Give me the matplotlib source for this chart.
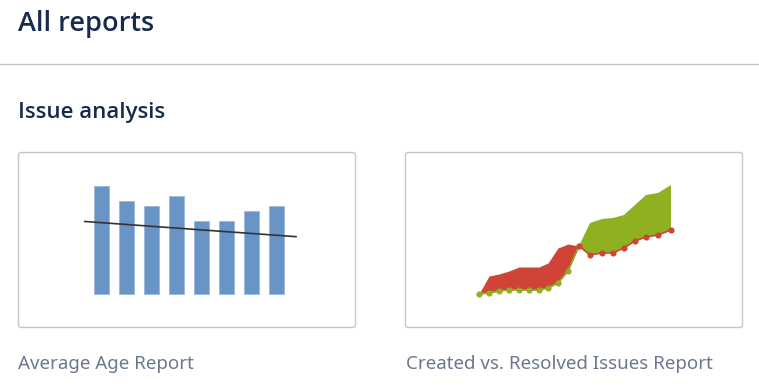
import matplotlib
matplotlib.use("Agg")
import matplotlib.pyplot as plt
from matplotlib.patches import FancyBboxPatch
import numpy as np

W, H = 759, 391

# ---- data ----
title = "All reports"
section = "Issue analysis"
captions = ["Average Age Report", "Created vs. Resolved Issues Report"]

avg_age = [22, 19, 18, 20, 15, 15, 17, 18]
trend_x = [-0.65, 7.8]
trend_y = [14.8, 11.7]

days = [0, 1, 2, 3, 4, 5, 6, 6.9, 7.9, 8.9, 10, 11.1, 12.3, 13.4, 14.5, 15.6, 16.7, 17.9, 19.2]
created = [0, 18, 20, 23, 27, 27, 27, 31, 46, 50, 48, 39, 41, 41, 46, 53, 57, 59, 64]
resolved = [0, 1, 3, 4, 4, 4, 4, 6, 11, 23, 48, 71, 75, 76, 79, 89, 99, 101, 109]

NAVY = "#172B4D"
GREY = "#6B778C"
BORDER = "#C1C7D0"
BLUE = "#6894C6"
RED = "#D04437"
GREEN = "#8EB021"

fig = plt.figure(figsize=(W / 100, H / 100), dpi=100)
fig.patch.set_facecolor("white")


def rect(x0, y0, x1, y1):
    return [x0 / W, 1 - y1 / H, (x1 - x0) / W, (y1 - y0) / H]


bg = fig.add_axes([0, 0, 1, 1])
bg.set_xlim(0, W)
bg.set_ylim(H, 0)
bg.axis("off")

bg.text(18, 31, title, fontsize=19.5, color=NAVY, family="Open Sans", fontweight="semibold",
        va="baseline", ha="left")
bg.plot([0, W], [63.5, 63.5], color=BORDER, lw=1)
bg.text(18, 118, section, fontsize=16, color=NAVY, family="Open Sans", fontweight="semibold",
        va="baseline", ha="left")

for x0 in (18, 405):
    bg.add_patch(FancyBboxPatch((x0 + 0.5, 152.5), 337, 175, boxstyle="round,pad=0,rounding_size=3",
                                facecolor="white", edgecolor=BORDER, lw=1))

bg.text(18, 369, captions[0], fontsize=13.5, color=GREY, family="Noto Sans", fontweight="light",
        va="baseline", ha="left")
bg.text(406, 369, captions[1], fontsize=13.5, color=GREY, family="Noto Sans", fontweight="light",
        va="baseline", ha="left")

# ---- Average age chart ----
ax1 = fig.add_axes(rect(19, 153, 355, 327))
ax1.patch.set_alpha(0)
ax1.axis("off")
x = np.arange(len(avg_age))
ax1.bar(x, avg_age, width=0.6, color=BLUE, edgecolor="#9DB8DA", linewidth=0.6)
ax1.plot(trend_x, trend_y, color="#333333", lw=1.2)
ax1.set_xlim((19 - 101) / 25, (355 - 101) / 25)
ax1.set_ylim((294 - 327) / 4.9, (294 - 153) / 4.9)

# ---- Created vs resolved chart ----
ax2 = fig.add_axes(rect(406, 153, 742, 327))
ax2.patch.set_alpha(0)
ax2.axis("off")
d = np.array(days)
c = np.array(created)
r = np.array(resolved)
ax2.fill_between(d, c, r, where=c >= r, interpolate=True, color=RED, lw=0)
ax2.fill_between(d, c, r, where=r >= c, interpolate=True, color=GREEN, lw=0)
ax2.plot(d[:11], r[:11], color=GREEN, lw=1.2, marker="o", ms=3.4, mec=GREEN, mfc=GREEN)
ax2.plot(d[10:], c[10:], color=RED, lw=1.2, marker="o", ms=3.4, mec=RED, mfc=RED)
ax2.set_xlim((406 - 479) / 10, (742 - 479) / 10)
ax2.set_ylim(294 - 327, 294 - 153)

fig.savefig("out.png", dpi=100)
